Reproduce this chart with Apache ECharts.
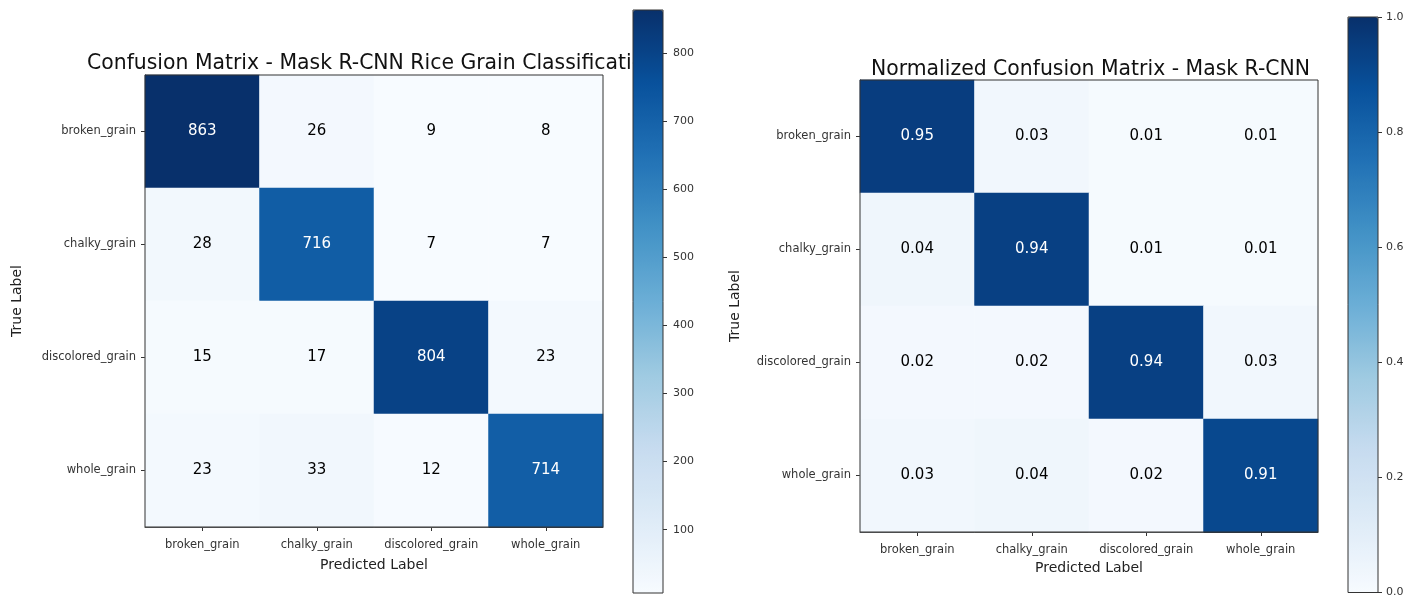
<!DOCTYPE html>
<html>
<head>
<meta charset="utf-8">
<script src="https://cdn.jsdelivr.net/npm/echarts@6/dist/echarts.min.js"></script>
<style>
  html, body { margin: 0; padding: 0; background: #fff; }
  #main { width: 1422px; height: 598px; }
</style>
</head>
<body>
<div id="main"></div>
<script>
// class names, shared by both matrices
const classes = ["broken_grain", "chalky_grain", "discolored_grain", "whole_grain"];

// raw counts (rows = true label, cols = predicted)
const countRow0 = [863, 26, 9, 8];
const countRow1 = [28, 716, 7, 7];
const countRow2 = [15, 17, 804, 23];
const countRow3 = [23, 33, 12, 714];

// normalized values as printed
const normRow0 = [0.95, 0.03, 0.01, 0.01];
const normRow1 = [0.04, 0.94, 0.01, 0.01];
const normRow2 = [0.02, 0.02, 0.94, 0.03];
const normRow3 = [0.03, 0.04, 0.02, 0.91];

// colorbar ticks
const countTicks = [100, 200, 300, 400, 500, 600, 700, 800];
const normTicks = [0, 0.2, 0.4, 0.6, 0.8, 1.0];

const blues = ["#f7fbff", "#deebf7", "#c6dbef", "#9ecae1", "#6baed6", "#4292c6", "#2171b5", "#08519c", "#08306b"];
const FONT = "DejaVu Sans";

function toCells(rows, thresh, fmt) {
  let out = [];
  rows.forEach((row, r) => {
    row.forEach((v, c) => {
      out.push({
        value: [c, r, v],
        label: { color: v > thresh ? "#fff" : "#000", formatter: fmt(v) }
      });
    });
  });
  return out;
}

const countMin = 7, countMax = 863;
const countCells = toCells([countRow0, countRow1, countRow2, countRow3], countMax / 2, v => String(v));
const normCells = toCells([normRow0, normRow1, normRow2, normRow3], 0.5, v => v.toFixed(2));

function catX(gridIndex, gap) {
  return {
    type: "category", gridIndex: gridIndex, data: classes,
    axisLine: { show: true, lineStyle: { color: "#333", width: 1 } },
    axisTick: { show: true, alignWithLabel: true, length: 4, lineStyle: { color: "#333" } },
    axisLabel: { color: "#333", fontSize: 11.5, fontFamily: FONT, margin: 12, interval: 0 },
    splitLine: { show: false },
    name: "Predicted Label", nameLocation: "middle", nameGap: gap,
    nameTextStyle: { color: "#222", fontSize: 14, fontFamily: FONT }
  };
}
function catY(gridIndex, gap) {
  return {
    type: "category", gridIndex: gridIndex, data: classes, inverse: true,
    axisLine: { show: true, lineStyle: { color: "#333", width: 1 } },
    axisTick: { show: true, alignWithLabel: true, length: 4, lineStyle: { color: "#333" } },
    axisLabel: { color: "#333", fontSize: 11.5, fontFamily: FONT, margin: 9, interval: 0 },
    splitLine: { show: false },
    name: "True Label", nameLocation: "middle", nameGap: gap,
    nameTextStyle: { color: "#222", fontSize: 14, fontFamily: FONT }
  };
}

let myChart = echarts.init(document.getElementById("main"));

let option = {
  backgroundColor: "#fff",
  animation: false,
  title: [
    {
      text: "Confusion Matrix - Mask R-CNN Rice Grain Classification",
      left: 82, top: 49, z: 1,
      textStyle: { fontFamily: FONT, fontWeight: "normal", fontSize: 20.4, color: "#111" }
    },
    {
      text: "Normalized Confusion Matrix - Mask R-CNN",
      left: 866, top: 55, z: 1,
      textStyle: { fontFamily: FONT, fontWeight: "normal", fontSize: 20.4, color: "#111" }
    }
  ],
  grid: [
    { left: 145, top: 75, width: 458, height: 452, show: true, borderColor: "#333", borderWidth: 1, z: 3 },
    { left: 860, top: 80, width: 458, height: 452, show: true, borderColor: "#333", borderWidth: 1, z: 3 },
    // colorbar frames
    { left: 633, top: 10, width: 30, height: 583, show: true, borderColor: "#333", borderWidth: 1, z: 6 },
    { left: 1348, top: 17, width: 30, height: 576, show: true, borderColor: "#333", borderWidth: 1, z: 6 }
  ],
  xAxis: [
    catX(0, 31),
    catX(1, 28),
    { type: "value", gridIndex: 2, show: false, min: 0, max: 1 },
    { type: "value", gridIndex: 3, show: false, min: 0, max: 1 }
  ],
  yAxis: [
    catY(0, 121),
    catY(1, 118),
    {
      type: "value", gridIndex: 2, position: "right", min: countMin, max: countMax, z: 6,
      axisLine: { show: false, onZero: false },
      axisTick: { show: true, length: 4, customValues: countTicks, lineStyle: { color: "#333" } },
      axisLabel: { customValues: countTicks, color: "#333", fontSize: 11, fontFamily: FONT, margin: 10 },
      splitLine: { show: false }
    },
    {
      type: "value", gridIndex: 3, position: "right", min: 0, max: 1, interval: 0.2, z: 6,
      axisLine: { show: false, onZero: false },
      axisTick: { show: true, length: 4, lineStyle: { color: "#333" } },
      axisLabel: { customValues: normTicks, color: "#333", fontSize: 11, fontFamily: FONT, margin: 8,
        formatter: v => v.toFixed(1) },
      splitLine: { show: false }
    }
  ],
  visualMap: [
    {
      type: "continuous", seriesIndex: 0, min: countMin, max: countMax,
      left: 633, top: 10, itemWidth: 30, itemHeight: 583, padding: 0,
      calculable: false, text: null, hoverLink: false,
      inRange: { color: blues }
    },
    {
      type: "continuous", seriesIndex: 1, min: 0, max: 1,
      left: 1348, top: 17, itemWidth: 30, itemHeight: 576, padding: 0,
      calculable: false, text: null, hoverLink: false,
      inRange: { color: blues }
    }
  ],
  series: [
    {
      type: "heatmap", xAxisIndex: 0, yAxisIndex: 0, data: countCells,
      label: { show: true, fontSize: 15, fontFamily: FONT },
      itemStyle: { borderWidth: 0 }
    },
    {
      type: "heatmap", xAxisIndex: 1, yAxisIndex: 1, data: normCells,
      label: { show: true, fontSize: 15, fontFamily: FONT },
      itemStyle: { borderWidth: 0 }
    }
  ]
};

myChart.setOption(option);
</script>
</body>
</html>
